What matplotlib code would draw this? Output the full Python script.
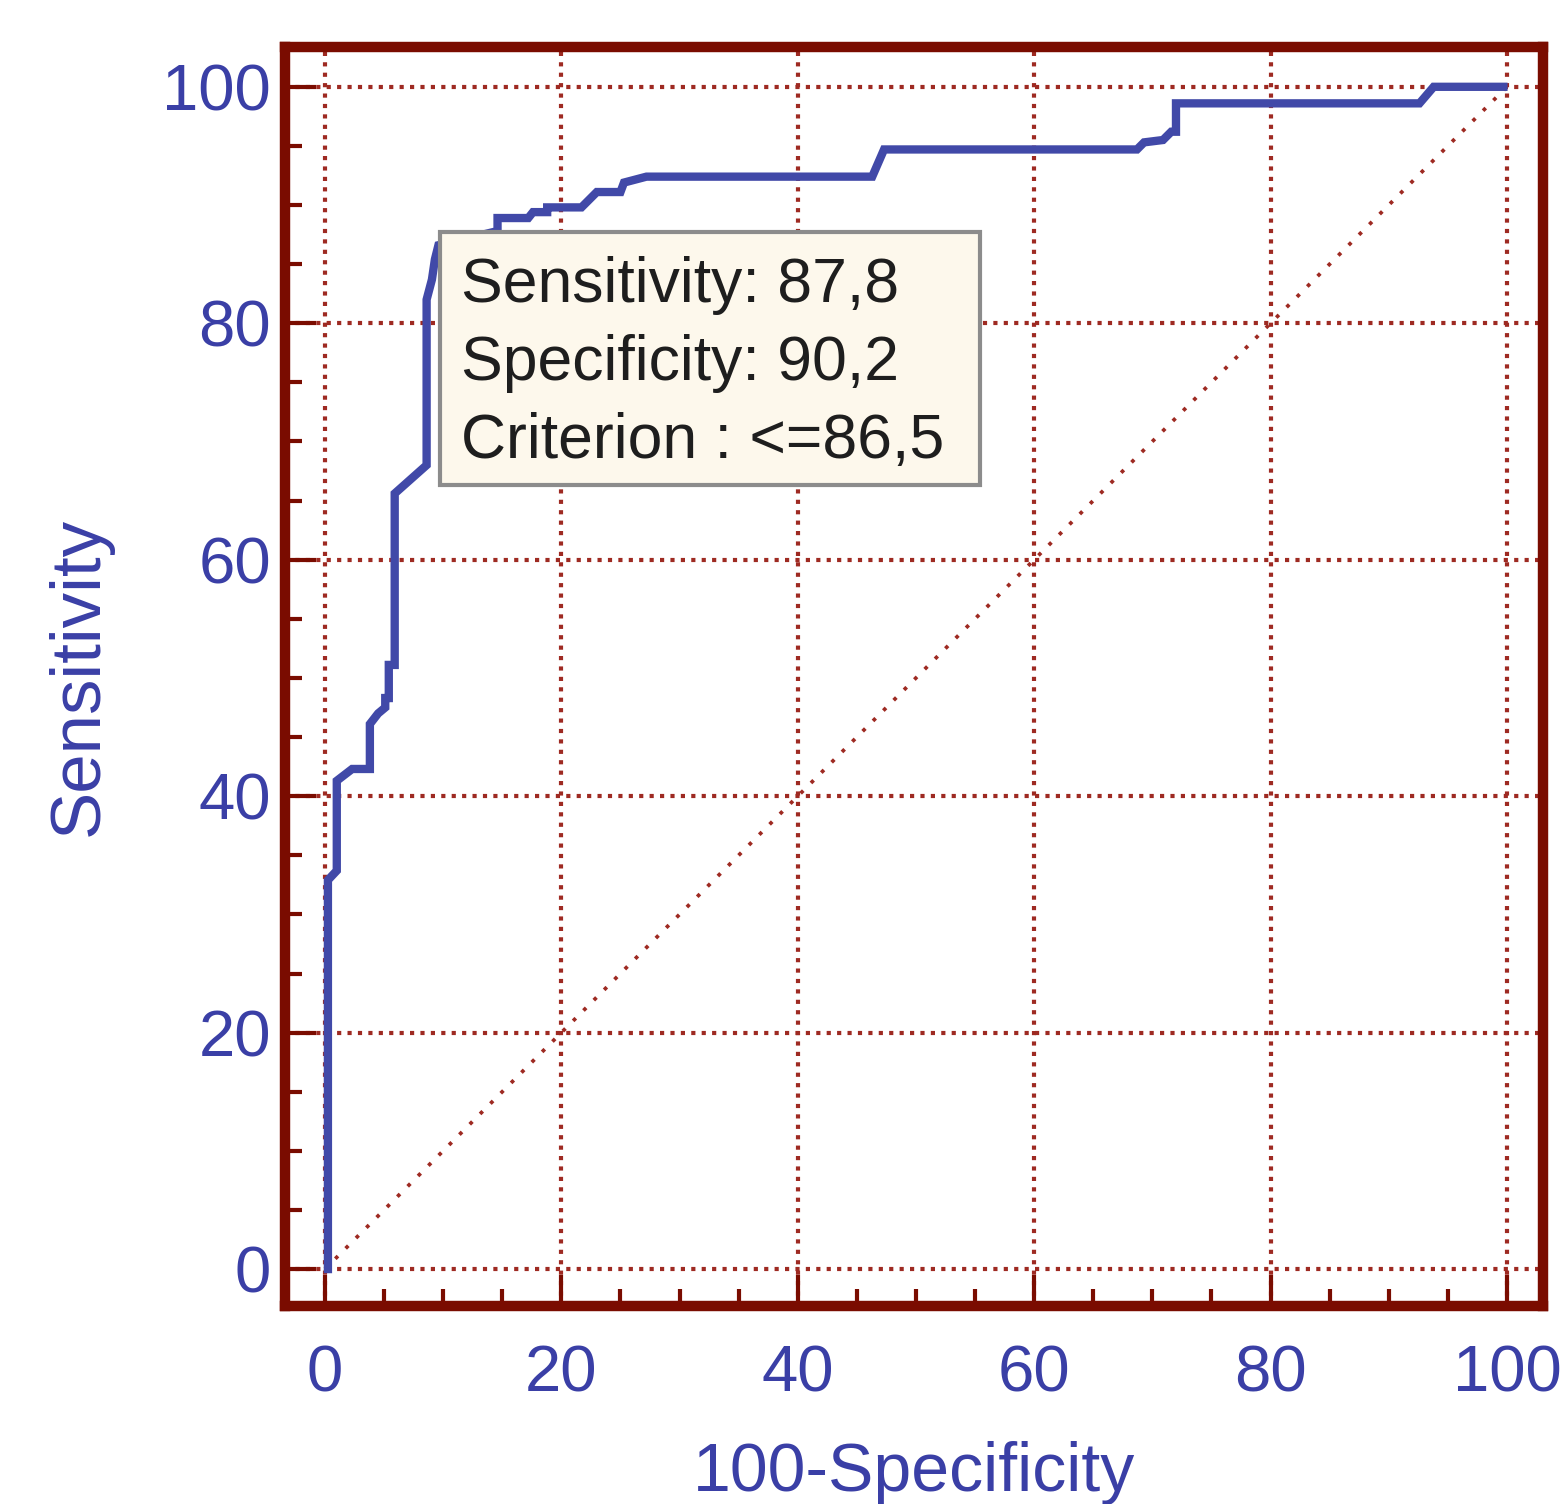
import matplotlib
matplotlib.use("Agg")
import matplotlib.pyplot as plt
from matplotlib.patches import Rectangle

# ROC curve (100-Specificity, Sensitivity)
fpr = [0.25, 0.25, 1.0, 1.0, 2.3, 3.8, 3.8, 4.5, 5.1, 5.1, 5.4, 5.4, 5.9, 5.9,
       8.6, 8.6, 9.05, 9.3, 9.6, 14.6, 14.6, 17.2, 17.6, 18.8, 18.8, 21.7,
       23.0, 25.0, 25.3, 27.2, 46.3, 47.3, 68.7, 69.3, 70.9, 71.6, 72.0, 72.0,
       92.6, 93.8, 99.7]
tpr = [0.0, 32.9, 33.7, 41.3, 42.3, 42.3, 46.1, 47.0, 47.5, 48.3, 48.3, 51.1, 51.1, 65.6,
       68.0, 82.0, 83.7, 85.4, 86.6, 87.8, 88.9, 88.9, 89.4, 89.4, 89.8, 89.8,
       91.1, 91.1, 91.9, 92.4, 92.4, 94.7, 94.7, 95.3, 95.5, 96.2, 96.2, 98.6,
       98.6, 100.0, 100.0]

ticks = [0, 20, 40, 60, 80, 100]
minor_ticks = [5, 10, 15, 25, 30, 35, 45, 50, 55, 65, 70, 75, 85, 90, 95]

box_lines = ["Sensitivity: 87,8", "Specificity: 90,2", "Criterion : <=86,5"]

frame_col = "#7a0c00"
grid_col = "#9e2a22"
curve_col = "#4149a8"
label_col = "#3a3fa6"

plt.rcParams['font.family'] = ['Liberation Sans', 'DejaVu Sans']

fig = plt.figure(figsize=(15.6, 15.04), dpi=100)
ax = fig.add_axes([0.1827, 0.1316, 0.8064, 0.8371])

ax.set_xlim(-3.38, 103.05)
ax.set_ylim(-3.13, 103.36)

# grid
for t in ticks:
    ax.axvline(t, color=grid_col, lw=3.0, dashes=(1, 1.5), zorder=1)
    ax.axhline(t, color=grid_col, lw=3.0, dashes=(1, 1.5), zorder=1)

# diagonal reference
ax.plot([0, 100], [0, 100], color=grid_col, lw=2.7, dashes=(1, 2.9), zorder=1)

# roc curve
ax.plot(fpr, tpr, color=curve_col, lw=6, solid_joinstyle='miter', zorder=3)

# frame
for s in ax.spines.values():
    s.set_color(frame_col)
    s.set_linewidth(7.5)

ax.set_xticks(ticks)
ax.set_yticks(ticks)
ax.set_xticks(minor_ticks, minor=True)
ax.set_yticks(minor_ticks, minor=True)
ax.tick_params(which='major', direction='in', length=22, width=3, color=frame_col,
               labelsize=47, labelcolor=label_col)
ax.tick_params(which='minor', direction='in', length=12, width=3, color=frame_col)
ax.tick_params(axis='x', which='major', pad=28)
ax.tick_params(axis='y', which='major', pad=10)

ax.set_xlabel("100-Specificity", fontsize=49, color=label_col, labelpad=26)
ax.set_ylabel("Sensitivity", fontsize=51, color=label_col, labelpad=36)

# tooltip box
ax.add_patch(Rectangle((0.1232, 0.6521), 0.4293, 0.2010, transform=ax.transAxes,
                       facecolor="#fdf8ec", edgecolor="#8c8c8c", lw=3, zorder=5))
for i, line in enumerate(box_lines):
    ax.text(0.1399, 0.7975 - i * 0.062, line, transform=ax.transAxes, fontsize=45,
            color="#1e1e1e", va='baseline', ha='left', zorder=6)

fig.savefig("out.png", dpi=100)
